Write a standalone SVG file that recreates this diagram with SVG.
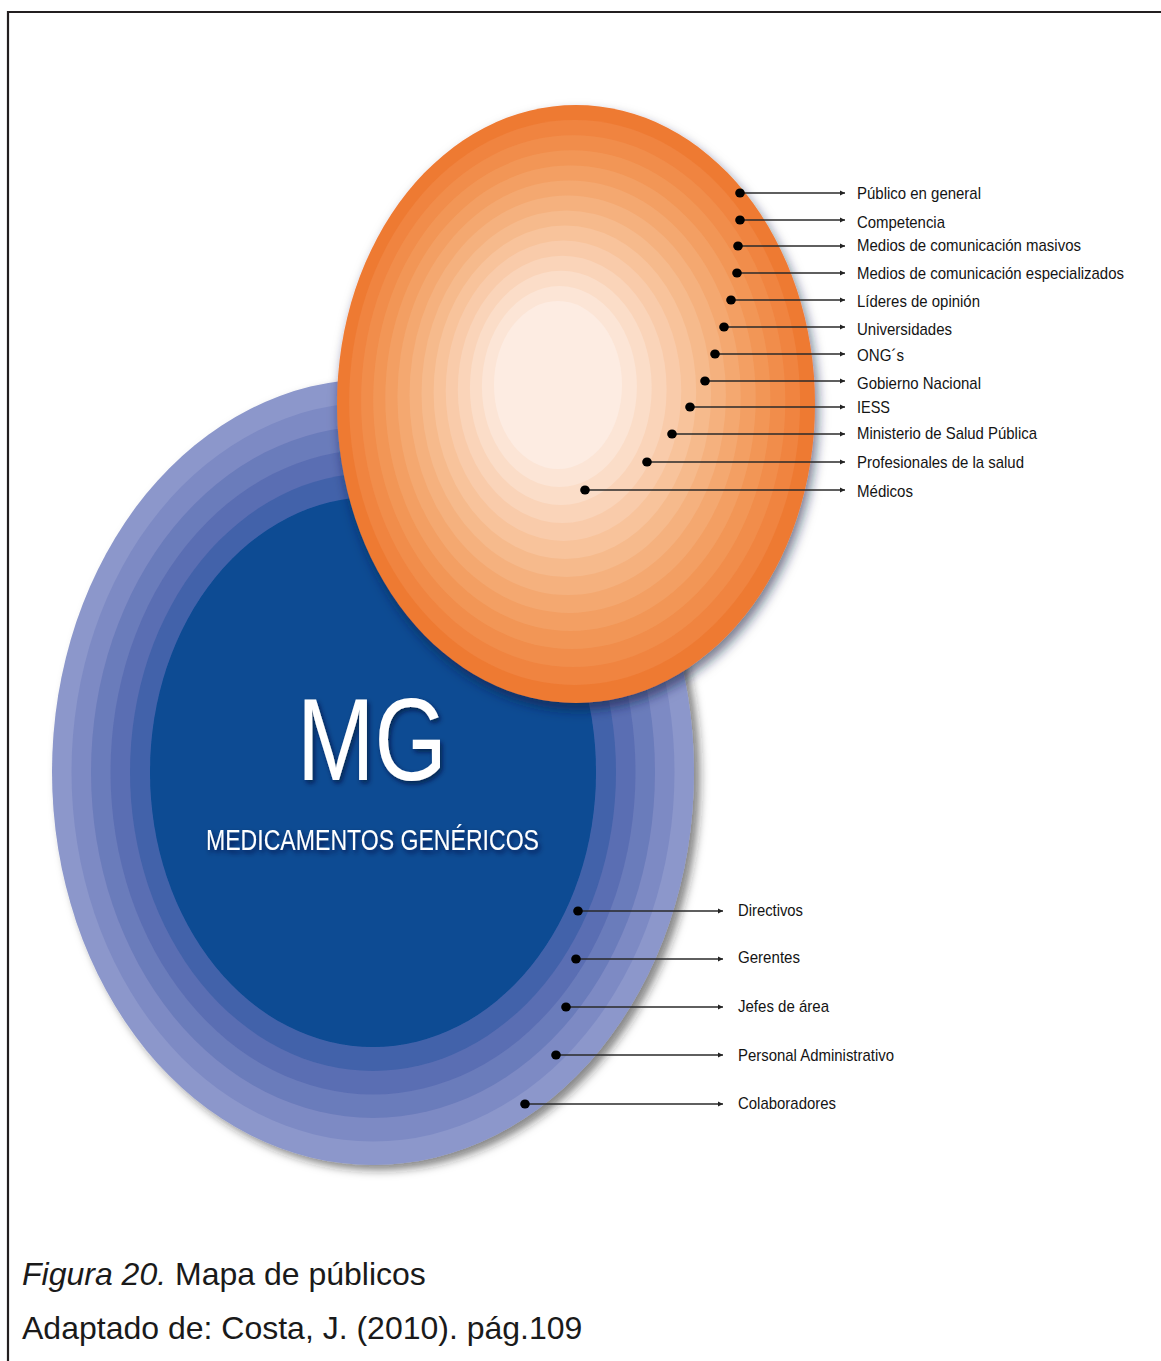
<svg xmlns="http://www.w3.org/2000/svg" width="1161" height="1361" viewBox="0 0 1161 1361">
<style>
.lbl{font-family:"Liberation Sans",Arial,sans-serif;font-size:17px;fill:#141414}
.con{stroke:#2a2a2a;stroke-width:1.6;fill:none;marker-start:url(#dot);marker-end:url(#arr)}
.cap{font-family:"Liberation Sans",Arial,sans-serif;font-size:32px;fill:#1a1a1a}
.white{font-family:"Liberation Sans",Arial,sans-serif;fill:#ffffff}
</style>
<defs>
<marker id="dot" markerUnits="userSpaceOnUse" markerWidth="12" markerHeight="12" refX="6" refY="6" orient="auto">
<ellipse cx="6" cy="6" rx="4.8" ry="4.6" fill="#000"/>
</marker>
<marker id="arr" markerUnits="userSpaceOnUse" markerWidth="6" markerHeight="6" refX="5" refY="3" orient="auto">
<path d="M0,0.5 L5,3 L0,5.5 z" fill="#222"/>
</marker>
<filter id="shB" x="-10%" y="-10%" width="125%" height="125%">
<feDropShadow dx="6" dy="5" stdDeviation="5" flood-color="#1a1a1a" flood-opacity="0.55"/>
</filter>
<filter id="shO" x="-10%" y="-10%" width="125%" height="125%">
<feDropShadow dx="3" dy="7" stdDeviation="6" flood-color="#0a1a40" flood-opacity="0.6"/>
</filter>
<filter id="shT" x="-10%" y="-20%" width="130%" height="150%">
<feDropShadow dx="2" dy="3" stdDeviation="2.5" flood-color="#001030" flood-opacity="0.7"/>
</filter>
</defs>
<rect x="0" y="0" width="1161" height="1361" fill="#ffffff"/>
<path d="M8,1361 L8,12 L1161,12" fill="none" stroke="#231f20" stroke-width="2.2"/>

<g id="blue-circle" filter="url(#shB)">
<ellipse cx="373" cy="772" rx="321" ry="393" fill="#8c97cb"/>
<ellipse cx="373" cy="772" rx="301.5" ry="369.5" fill="#7d8ac4"/>
<ellipse cx="373" cy="772" rx="282" ry="346" fill="#6b7bbb"/>
<ellipse cx="373" cy="772" rx="262.5" ry="322.5" fill="#5a6eb3"/>
<ellipse cx="373" cy="772" rx="243" ry="299" fill="#4262aa"/>
<ellipse cx="373" cy="772" rx="223" ry="275" fill="#0a4b93"/>
</g>

<g id="orange-circle" filter="url(#shO)">
<ellipse cx="576" cy="404" rx="239" ry="299" fill="#ee7a33"/>
<ellipse cx="574.6" cy="402.5" rx="225.5" ry="282.5" fill="#f08440"/>
<ellipse cx="573.2" cy="401.1" rx="212.1" ry="265.9" fill="#f18d4b"/>
<ellipse cx="571.8" cy="399.6" rx="198.6" ry="249.4" fill="#f29656"/>
<ellipse cx="570.5" cy="398.2" rx="185.2" ry="232.8" fill="#f39f63"/>
<ellipse cx="569.1" cy="396.7" rx="171.7" ry="216.3" fill="#f4a870"/>
<ellipse cx="567.7" cy="395.2" rx="158.2" ry="199.8" fill="#f5b17e"/>
<ellipse cx="566.3" cy="393.8" rx="144.8" ry="183.2" fill="#f6ba8c"/>
<ellipse cx="564.9" cy="392.3" rx="131.3" ry="166.7" fill="#f8c39b"/>
<ellipse cx="563.5" cy="390.8" rx="117.8" ry="150.2" fill="#f9cbaa"/>
<ellipse cx="562.2" cy="389.4" rx="104.4" ry="133.6" fill="#fad4b9"/>
<ellipse cx="560.8" cy="387.9" rx="90.9" ry="117.1" fill="#fbddc8"/>
<ellipse cx="559.4" cy="386.5" rx="77.5" ry="100.5" fill="#fce5d6"/>
<ellipse cx="558" cy="385" rx="64" ry="84" fill="#fdece2"/>
</g>

<g id="title" filter="url(#shT)">
<text class="white" x="372" y="780" font-size="116" text-anchor="middle" textLength="150" lengthAdjust="spacingAndGlyphs">MG</text>
<text class="white" x="372.5" y="850" font-size="30" text-anchor="middle" textLength="333" lengthAdjust="spacingAndGlyphs">MEDICAMENTOS GENÉRICOS</text>
</g>

<g id="connectors">
<line class="con" x1="740" y1="193" x2="845" y2="193"/>
<line class="con" x1="740" y1="220" x2="845" y2="220"/>
<line class="con" x1="738" y1="246" x2="845" y2="246"/>
<line class="con" x1="737" y1="273" x2="845" y2="273"/>
<line class="con" x1="731" y1="300" x2="845" y2="300"/>
<line class="con" x1="724" y1="327" x2="845" y2="327"/>
<line class="con" x1="715" y1="354" x2="845" y2="354"/>
<line class="con" x1="705" y1="381" x2="845" y2="381"/>
<line class="con" x1="690" y1="407" x2="845" y2="407"/>
<line class="con" x1="672" y1="434" x2="845" y2="434"/>
<line class="con" x1="647" y1="462" x2="845" y2="462"/>
<line class="con" x1="585" y1="490" x2="845" y2="490"/>
<line class="con" x1="578" y1="911" x2="723" y2="911"/>
<line class="con" x1="576" y1="959" x2="723" y2="959"/>
<line class="con" x1="566" y1="1007" x2="723" y2="1007"/>
<line class="con" x1="556" y1="1055" x2="723" y2="1055"/>
<line class="con" x1="525" y1="1104" x2="723" y2="1104"/>
</g>

<g id="n-publico"><text class="lbl" x="857" y="199" textLength="124" lengthAdjust="spacingAndGlyphs">Público en general</text></g>
<g id="n-competencia"><text class="lbl" x="857" y="228" textLength="88" lengthAdjust="spacingAndGlyphs">Competencia</text></g>
<g id="n-masivos"><text class="lbl" x="857" y="251" textLength="224" lengthAdjust="spacingAndGlyphs">Medios de comunicación masivos</text></g>
<g id="n-especializados"><text class="lbl" x="857" y="279" textLength="267" lengthAdjust="spacingAndGlyphs">Medios de comunicación especializados</text></g>
<g id="n-lideres"><text class="lbl" x="857" y="307" textLength="123" lengthAdjust="spacingAndGlyphs">Líderes de opinión</text></g>
<g id="n-universidades"><text class="lbl" x="857" y="335" textLength="95" lengthAdjust="spacingAndGlyphs">Universidades</text></g>
<g id="n-ongs"><text class="lbl" x="857" y="361" textLength="47" lengthAdjust="spacingAndGlyphs">ONG´s</text></g>
<g id="n-gobierno"><text class="lbl" x="857" y="389" textLength="124" lengthAdjust="spacingAndGlyphs">Gobierno Nacional</text></g>
<g id="n-iess"><text class="lbl" x="857" y="413" textLength="33" lengthAdjust="spacingAndGlyphs">IESS</text></g>
<g id="n-ministerio"><text class="lbl" x="857" y="439" textLength="180" lengthAdjust="spacingAndGlyphs">Ministerio de Salud Pública</text></g>
<g id="n-profesionales"><text class="lbl" x="857" y="468" textLength="167" lengthAdjust="spacingAndGlyphs">Profesionales de la salud</text></g>
<g id="n-medicos"><text class="lbl" x="857" y="497" textLength="56" lengthAdjust="spacingAndGlyphs">Médicos</text></g>

<g id="n-directivos"><text class="lbl" x="738" y="916" textLength="65" lengthAdjust="spacingAndGlyphs">Directivos</text></g>
<g id="n-gerentes"><text class="lbl" x="738" y="963" textLength="62" lengthAdjust="spacingAndGlyphs">Gerentes</text></g>
<g id="n-jefes"><text class="lbl" x="738" y="1012" textLength="91" lengthAdjust="spacingAndGlyphs">Jefes de área</text></g>
<g id="n-personal"><text class="lbl" x="738" y="1061" textLength="156" lengthAdjust="spacingAndGlyphs">Personal Administrativo</text></g>
<g id="n-colaboradores"><text class="lbl" x="738" y="1109" textLength="98" lengthAdjust="spacingAndGlyphs">Colaboradores</text></g>

<g id="caption">
<text class="cap" x="22" y="1285"><tspan font-style="italic">Figura 20.</tspan> Mapa de públicos</text>
<text class="cap" x="22" y="1339">Adaptado de: Costa, J. (2010). pág.109</text>
</g>
</svg>
